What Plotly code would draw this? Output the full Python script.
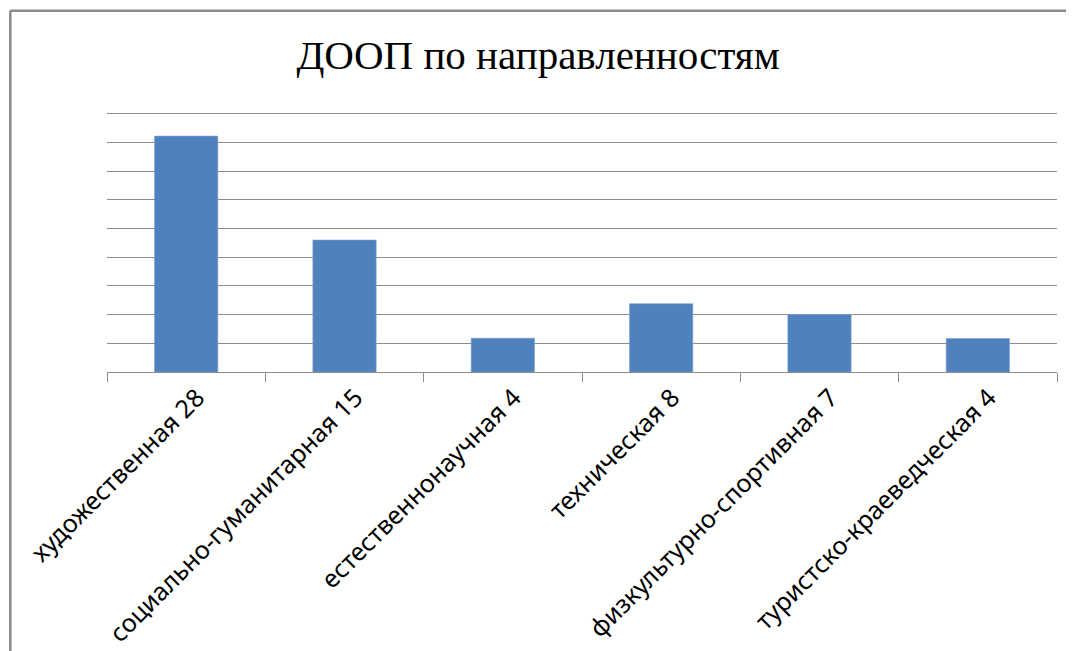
import plotly.graph_objects as go

categories = ["художественная 28", "социально-гуманитарная 15", "естественнонаучная 4",
              "техническая 8", "физкультурно-спортивная 7", "туристско-краеведческая 4"]
values = [41.1, 23.0, 5.9, 11.9, 10.0, 5.85]
title_text = "ДООП по направленностям"

W, H = 1074, 651
OFF = 8  # page body margin shifts the figure by this many px
Y_TOP = 46  # axis range top; gridline at 45 lands on the reference's top line

# target screen positions (px) from the reference
plot_left, plot_right = 106.7, 1056.7
base_y, grid45_y = 372.3, 113.3

px_per_unit = (base_y - grid45_y) / 45
L = plot_left - OFF
R = W - (plot_right - OFF)
B = H - (base_y - OFF)
T = (base_y - OFF) - Y_TOP * px_per_unit
pw, ph = W - L - R, H - T - B

def px_x(x):
    return (x - OFF - L) / pw

def px_y(y):
    return (H - B - (y - OFF)) / ph

fig = go.Figure(go.Bar(
    x=categories, y=values,
    marker=dict(color="#4f81bd", line=dict(color="#7fa3d0", width=0.6)),
    width=0.4,
))

frame = "#8a8a8a"
fig.update_layout(
    width=W, height=H,
    margin=dict(l=L, r=R, t=T, b=B, autoexpand=False),
    paper_bgcolor="white", plot_bgcolor="white",
    showlegend=False,
    title=dict(text=title_text, x=(538 - OFF) / W, xref="container", xanchor="center",
               y=1 - (55 - OFF) / H, yref="container", yanchor="middle",
               font=dict(family="Liberation Serif", size=41, color="black")),
    xaxis=dict(type="category", tickson="boundaries", ticks="outside", ticklen=9,
               tickcolor="#8c8c8c", tickwidth=1.2, showline=True, linecolor="#8c8c8c",
               linewidth=1.2, tickangle=-45, showgrid=False, automargin=False,
               ticklabelshift=11,
               tickfont=dict(family="Noto Sans", size=25, color="black")),
    yaxis=dict(range=[0, Y_TOP], dtick=5, showgrid=True, gridcolor="#8c8c8c", gridwidth=1.2,
               showticklabels=False, zeroline=False, ticks="", automargin=False),
    shapes=[
        dict(type="line", xref="paper", yref="paper", x0=px_x(10), x1=px_x(W + 20),
             y0=px_y(10), y1=px_y(10), line=dict(color=frame, width=2.5)),
        dict(type="line", xref="paper", yref="paper", x0=px_x(10), x1=px_x(10),
             y0=px_y(10), y1=px_y(H + 20), line=dict(color=frame, width=2.5)),
    ],
)

fig.write_html("out.html")
